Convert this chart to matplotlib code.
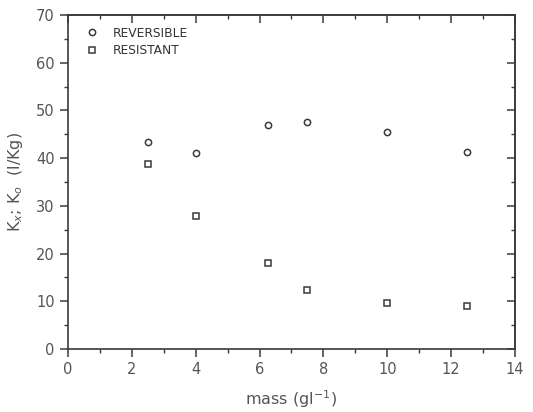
import matplotlib.pyplot as plt
from matplotlib.ticker import MultipleLocator

mass = [2.5, 4, 6.25, 7.5, 10, 12.5]
reversible = [43.4, 41.0, 46.9, 47.5, 45.5, 41.2]
resistant = [38.7, 27.8, 18.0, 12.4, 9.6, 9.1]

ink = '#3a3a3a'
plt.rcParams['font.family'] = 'DejaVu Sans'

fig = plt.figure(figsize=(5.33, 4.12), dpi=100)
ax = fig.add_axes([0.1276, 0.1529, 0.8386, 0.8107])

ax.plot(mass, reversible, 'o', mfc='none', mec=ink, ms=4.5, mew=1.1,
        label='REVERSIBLE')
ax.plot(mass, resistant, 's', mfc='none', mec=ink, ms=4, mew=1.1,
        label='RESISTANT')

ax.set_xlim(0, 14)
ax.set_ylim(0, 70)
ax.xaxis.set_major_locator(MultipleLocator(2))
ax.xaxis.set_minor_locator(MultipleLocator(1))
ax.yaxis.set_major_locator(MultipleLocator(10))
ax.yaxis.set_minor_locator(MultipleLocator(5))

for s in ax.spines.values():
    s.set_color(ink)
    s.set_linewidth(1.2)

ax.tick_params(which='both', colors=ink, labelcolor='#555555', labelsize=10.5)
ax.tick_params(which='major', length=6, width=1.1)
ax.tick_params(which='minor', length=3, width=1.0)

# inward ticks on top and right, no labels
top = ax.secondary_xaxis('top')
right = ax.secondary_yaxis('right')
top.xaxis.set_major_locator(MultipleLocator(2))
top.xaxis.set_minor_locator(MultipleLocator(1))
right.yaxis.set_major_locator(MultipleLocator(10))
right.yaxis.set_minor_locator(MultipleLocator(5))
for sec in (top, right):
    sec.tick_params(which='both', direction='in', colors=ink,
                    labelleft=False, labelright=False,
                    labeltop=False, labelbottom=False)
    sec.tick_params(which='major', length=6, width=1.1)
    sec.tick_params(which='minor', length=3, width=1.0)
    for s in sec.spines.values():
        s.set_color(ink)
        s.set_linewidth(1.2)

ax.set_xlabel('mass (gl$^{-1}$)', fontsize=11.5, color='#555555', labelpad=8)
ax.set_ylabel('K$_x$; K$_o$  (l/Kg)', fontsize=11.5, color='#555555', labelpad=8)

ax.legend(loc='upper left', frameon=False, fontsize=8.8, handletextpad=0.7,
          labelspacing=0.4, borderaxespad=0.55, labelcolor='#333333')

fig.savefig('out.png', dpi=100, facecolor='white')
